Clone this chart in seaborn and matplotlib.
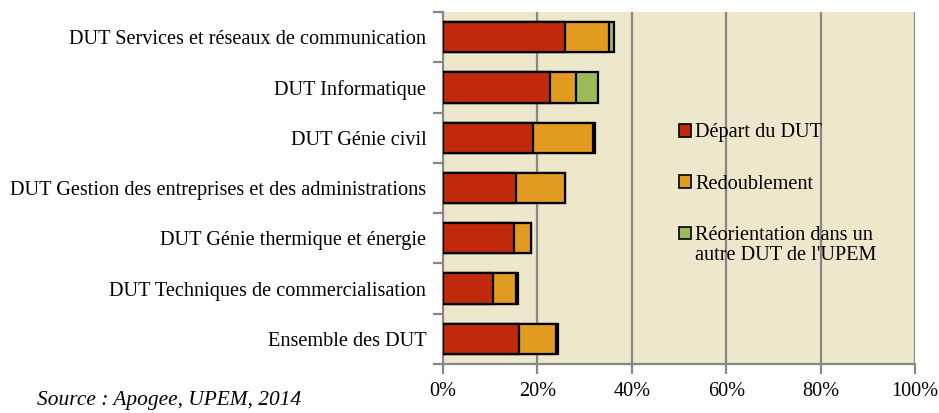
import pandas as pd
import matplotlib.pyplot as plt
import seaborn as sns
import numpy as np
from matplotlib.patches import Patch
from matplotlib.ticker import FixedLocator, PercentFormatter

# Données (en %)
categories = [
    "DUT Services et réseaux de communication",
    "DUT Informatique",
    "DUT Génie civil",
    "DUT Gestion des entreprises et des administrations",
    "DUT Génie thermique et énergie",
    "DUT Techniques de commercialisation",
    "Ensemble des DUT",
]
depart = [25.8, 22.7, 19.0, 15.5, 15.0, 10.5, 16.2]
redoublement = [9.4, 5.5, 12.8, 10.3, 3.6, 5.0, 7.7]
reorientation = [1.0, 4.6, 0.4, 0.0, 0.0, 0.3, 0.4]
series = ["Départ du DUT", "Redoublement", "Réorientation dans un"]
series_suite = "autre DUT de l'UPEM"
colors = ["#C0290B", "#E09B20", "#9BBB59"]
xticks = [0, 20, 40, 60, 80, 100]

df = pd.DataFrame({"cat": categories, "s1": depart, "s2": redoublement, "s3": reorientation})
df["c1"] = df["s1"]
df["c2"] = df["s1"] + df["s2"]
df["c3"] = df["c2"] + df["s3"]

sns.set_theme(style="white")
plt.rcParams["font.family"] = ["Liberation Serif", "DejaVu Serif"]
plt.rcParams["text.color"] = "black"

fig = plt.figure(figsize=(9.39, 4.13), dpi=100)
ax = fig.add_axes([443 / 939, 1 - 364 / 413, 472 / 939, 352 / 413])
ax.set_facecolor("#EDE7CC")

# Barres empilées : on dessine les cumuls du plus grand au plus petit
for col, color in zip(["c3", "c2", "c1"], colors[::-1]):
    sns.barplot(data=df, x=col, y="cat", orient="h", color=color, width=0.6,
                edgecolor="black", linewidth=1.6, saturation=1, ax=ax, zorder=3)

ax.set_xlim(0, 100)
ax.set_ylim(len(categories) - 0.5, -0.5)
ax.set_xticks(xticks)
ax.xaxis.set_major_formatter(PercentFormatter(decimals=0))
for x in xticks[1:]:
    ax.axvline(x, color="#878787", lw=1.6, zorder=1)

ax.set_xlabel("")
ax.set_ylabel("")
for s in ["top", "right"]:
    ax.spines[s].set_visible(False)
for s in ["left", "bottom"]:
    ax.spines[s].set_color("#878787")
    ax.spines[s].set_linewidth(1.6)

ax.tick_params(axis="y", length=0, labelsize=14.6, pad=12, colors="black")
ax.yaxis.set_minor_locator(FixedLocator(np.arange(-0.5, len(categories), 1)))
ax.tick_params(axis="y", which="minor", length=7, width=1.6, color="#878787", left=True)
ax.tick_params(axis="x", length=7, width=1.6, color="#878787", labelsize=14.6, pad=6,
               bottom=True, labelcolor="black")

handles = [Patch(facecolor=c, edgecolor="black", linewidth=1.2) for c in colors]
leg = fig.legend(handles, series, loc="upper left", bbox_to_anchor=(661 / 939, 1 - 105 / 413),
                 frameon=False, fontsize=14.6, handlelength=0.6, handleheight=0.6,
                 handletextpad=0.2, labelspacing=1.6, labelcolor="black")

# deuxième ligne du troisième libellé, alignée sous le texte de la légende
fig.canvas.draw()
bb = leg.get_texts()[2].get_window_extent().transformed(fig.transFigure.inverted())
fig.text(bb.x0, bb.y0 - 0.002, series_suite, fontsize=14.6, ha="left", va="top", color="black")

fig.text(37 / 939, 1 - 400 / 413, "Source : Apogee, UPEM, 2014", fontsize=15.4,
         style="italic", va="center", ha="left", color="black")

fig.savefig("out.png", dpi=100)
